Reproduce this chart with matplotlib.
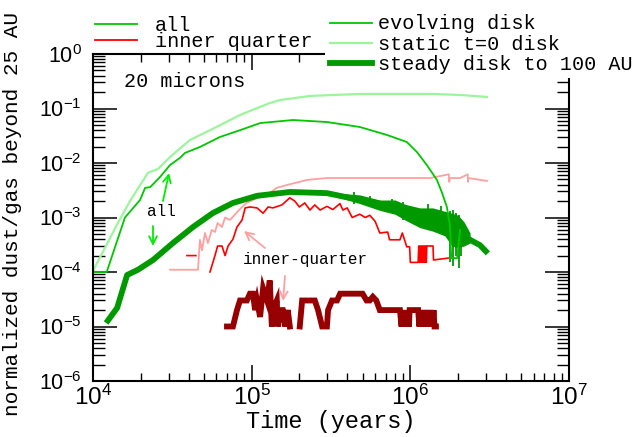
import matplotlib
matplotlib.use('Agg')
import matplotlib.pyplot as plt
import numpy as np
from matplotlib.lines import Line2D
from matplotlib.patches import Rectangle
from matplotlib.ticker import LogLocator, FuncFormatter, NullFormatter

plt.rcParams['font.family'] = 'Liberation Mono'
plt.rcParams['mathtext.fontset'] = 'custom'
plt.rcParams['mathtext.rm'] = 'Liberation Sans'
plt.rcParams['mathtext.it'] = 'Liberation Sans'

nan = np.nan

# evolving disk, all particles
evo_t = [1.0e4, 1.22e4, 1.59e4, 1.98e4, 2.13e4, 2.29e4, 2.64e4, 3.06e4, 3.53e4, 3.80e4,
         4.72e4, 6.31e4, 8.44e4, 1.13e5, 1.82e5, 2.98e5, 4.80e5, 7.12e5, 9.5e5, 1.10e6,
         1.27e6, 1.47e6, 1.58e6, 1.70e6, 1.78e6, 1.81e6, 1.97e6, 2.06e6]
evo_y = [1.0e-4, 1.0e-4, 1.0e-3, 2.1e-3, 3.5e-3, 3.6e-3, 5.5e-3, 9.2e-3, 1.24e-2, 1.53e-2,
         1.97e-2, 3.0e-2, 4.0e-2, 5.4e-2, 6.15e-2, 5.65e-2, 4.58e-2, 3.27e-2, 2.43e-2, 1.59e-2,
         9.2e-3, 4.9e-3, 2.9e-3, 1.56e-3, 6.7e-4, 1.8e-4, 1.8e-4, 5.9e-4]

# static t=0 disk, all particles
sta_t = [1.0e4, 1.42e4, 1.71e4, 2.22e4, 2.57e4, 3.06e4, 4.08e4, 5.46e4, 8.44e4, 1.30e5,
         1.51e5, 2.33e5, 4.8e5, 9.9e5, 1.39e6, 2.06e6, 3.04e6]
sta_y = [1.05e-4, 7.5e-4, 2.0e-3, 6.6e-3, 7.8e-3, 1.29e-2, 2.64e-2, 4.0e-2, 7.6e-2, 0.126,
         0.143, 0.170, 0.185, 0.185, 0.185, 0.177, 0.163]

# steady disk to 100 AU, all particles
std_t = [1.21e4, 1.42e4, 1.64e4, 1.92e4, 2.39e4, 3.19e4, 4.27e4, 5.70e4, 7.62e4, 1.08e5,
         1.74e5, 2.98e5, 4.8e5, 7.77e5, 1.15e6, 1.54e6, 1.97e6, 2.27e6, 2.75e6, 3.08e6]
std_y = [1.16e-5, 2.2e-5, 8.8e-5, 1.1e-4, 1.66e-4, 3.4e-4, 6.7e-4, 1.21e-3, 1.85e-3, 2.5e-3,
         2.94e-3, 2.8e-3, 2.1e-3, 1.63e-3, 9e-4, 7.3e-4, 5.2e-4, 4.2e-4, 3.1e-4, 2.2e-4]
# scatter of the steady curve: band edges and single spikes
band_t = [3.0e5, 4.8e5, 6.43e5, 8.0e5, 9.25e5, 1.15e6, 1.39e6, 1.65e6, 1.83e6, 2.0e6,
          2.18e6, 2.38e6]
band_hi = [2.9e-3, 2.6e-3, 2.09e-3, 2.1e-3, 1.75e-3, 1.5e-3, 1.5e-3, 1.3e-3, 1.2e-3, 1.1e-3,
           8.3e-4, 5.2e-4]
band_lo = [2.7e-3, 1.8e-3, 1.35e-3, 1.15e-3, 9e-4, 6.5e-4, 5.6e-4, 4.6e-4, 3.0e-4, 2.8e-4,
           3.0e-4, 3.4e-4]
spike_t = [4.4e5, 5.6e5, 7.7e5, 9.0e5, 1.3e6, 1.55e6, 1.78e6, 1.86e6, 1.93e6, 2.02e6, 2.10e6]
spike_hi = [2.9e-3, 2.5e-3, 2.2e-3, 1.9e-3, 1.8e-3, 1.6e-3, 1.3e-3, 1.4e-3, 1.2e-3, 1.1e-3, 9e-4]
spike_lo = [1.8e-3, 1.6e-3, 1.2e-3, 9e-4, 6e-4, 5e-4, 1.5e-4, 1.3e-4, 2.0e-4, 1.2e-4, 2.0e-4]

# evolving disk, inner quarter
red_t = [3.91e4, 4.45e4, nan, 5.46e4, 5.87e4, 6.1e4, 6.5e4, 6.8e4, 7.1e4, 7.62e4,
         8.08e4, 8.7e4, 9.1e4, 9.75e4, 1.08e5, 1.18e5, 1.27e5, 1.36e5, 1.55e5, 1.74e5,
         1.87e5, 2.0e5, 2.16e5, 2.33e5, 2.5e5, 2.7e5, 2.98e5, 3.25e5, 3.6e5, 3.76e5,
         4.0e5, 4.3e5, 4.8e5, 5.2e5, 5.55e5, 6.0e5, 6.42e5, 7.2e5, 7.4e5, 8.6e5,
         8.9e5, 9.5e5, 9.9e5, 1.0e6, 1.12e6, 1.13e6, 1.14e6, 1.15e6, 1.16e6, 1.17e6,
         1.18e6, 1.19e6, 1.20e6, 1.21e6, 1.22e6, 1.23e6, 1.24e6, 1.25e6, 1.26e6, 1.27e6,
         1.39e6, 1.40e6, 1.73e6]
red_y = [2e-4, 2e-4, nan, 1e-4, 2e-4, 3e-4, 3e-4, 2e-4, 3e-4, 4e-4,
         6.7e-4, 9e-4, 1.5e-3, 1.56e-3, 1.5e-3, 1.2e-3, 1.56e-3, 1.5e-3, 1.7e-3, 2.3e-3,
         2.0e-3, 1.56e-3, 1.85e-3, 1.37e-3, 1.7e-3, 1.37e-3, 1.6e-3, 1.4e-3, 1.8e-3, 1.37e-3,
         1.5e-3, 1.0e-3, 1.15e-3, 1.0e-3, 1.1e-3, 8.5e-4, 5.2e-4, 5.4e-4, 3.9e-4, 3.9e-4,
         5.2e-4, 2.9e-4, 2.9e-4, 1.5e-4, 1.5e-4, 3e-4, 1.5e-4, 3e-4, 1.5e-4, 3e-4,
         1.5e-4, 3e-4, 1.5e-4, 3e-4, 1.5e-4, 3e-4, 1.5e-4, 3e-4, 1.5e-4, 3e-4,
         3e-4, 1.66e-4, 1.8e-4]

# static disk, inner quarter
sal_t = [3.06e4, 4.59e4, 4.72e4, 4.86e4, 5.08e4, 5.3e4, 5.6e4, 5.87e4, 6.1e4, 6.5e4,
         6.8e4, 7.3e4, 8.1e4, 8.7e4, 9.3e4, 1.08e5, 1.25e5, 1.44e5, 1.67e5, 2.24e5,
         2.98e5, 4.8e5, 7.8e5, 1.33e6, 1.75e6, 1.76e6, 1.77e6, 2.06e6, 2.30e6, 2.31e6,
         2.32e6, 3.04e6]
sal_y = [1.1e-4, 1.1e-4, 3.9e-4, 2.5e-4, 5.2e-4, 3.4e-4, 5.9e-4, 5.4e-4, 7.9e-4, 6.7e-4,
         1.0e-3, 9e-4, 1.26e-3, 1.56e-3, 1.85e-3, 2.28e-3, 2.6e-3, 3.5e-3, 3.95e-3, 4.9e-3,
         5.3e-3, 5.3e-3, 5.3e-3, 5.3e-3, 6.2e-3, 4.5e-3, 5.3e-3, 5.3e-3, 6.2e-3, 4.5e-3,
         5.3e-3, 4.7e-3]

# steady disk, inner quarter (counts of 1e-5)
dr_t = [6.99e4, 7.62e4, 8.08e4, 8.44e4, 9.33e4, 9.75e4, 1.02e5, 1.05e5, 1.08e5, 1.13e5,
        1.18e5, 1.25e5, 1.30e5, 1.34e5, 1.36e5, 1.44e5, 1.46e5, 1.51e5, 1.57e5, 1.62e5,
        1.69e5, 1.74e5, 1.8e5, 2.01e5, 2.08e5, 2.24e5, 2.33e5, 2.5e5, 2.62e5, 2.78e5,
        2.98e5, 3.03e5, 3.21e5, 3.45e5, 3.61e5, 5.0e5, 5.3e5, 5.55e5, 5.8e5, 6.1e5,
        6.42e5, 8.6e5, 8.8e5, 8.9e5, 9.0e5, 9.1e5, 9.2e5, 9.3e5, 9.4e5, 9.5e5,
        9.6e5, 9.7e5, 9.8e5, 9.9e5, 1.04e6, 1.12e6, 1.14e6, 1.16e6, 1.18e6, 1.20e6,
        1.22e6, 1.24e6, 1.26e6, 1.28e6, 1.30e6, 1.32e6, 1.34e6, 1.36e6, 1.38e6, 1.40e6,
        1.42e6, 1.45e6]
dr_y = [1e-5, 1e-5, 2e-5, 3e-5, 3e-5, 4e-5, 4e-5, 2e-5, 3e-5, 1.5e-5,
        5e-5, 3e-5, 7e-5, 1e-5, 2e-5, 3e-5, 1e-5, 2e-5, 2e-5, 1e-5,
        2e-5, 1e-5, nan, 1e-5, 3e-5, 3e-5, 3e-5, 3e-5, 2e-5, 1e-5,
        1e-5, 2e-5, 3e-5, 3e-5, 4e-5, 4e-5, 3e-5, 3e-5, 3.5e-5, 3e-5,
        2e-5, 2e-5, 1e-5, 2e-5, 1e-5, 2e-5, 1e-5, 2e-5, 1e-5, 2e-5,
        1e-5, 2e-5, 1e-5, 2e-5, 2e-5, 2e-5, 1e-5, 2e-5, 1e-5, 2e-5,
        1e-5, 2e-5, 1e-5, 2e-5, 1e-5, 2e-5, 1e-5, 2e-5, 1e-5, 2e-5,
        1e-5, 1e-5]

c_evo = '#00c800'
c_sta = '#9cf59c'
c_std = '#009a00'
c_red = '#ff0000'
c_sal = '#ffa0a0'
c_drk = '#960000'

W, H = 636, 437


def fpx(x, y):
    return x / W, 1 - y / H


fig = plt.figure(figsize=(6.36, 4.37), dpi=100)
ax = fig.add_axes([93 / W, 1 - 381 / H, 476 / W, 327 / H])

ax.plot(sta_t, sta_y, color=c_sta, lw=1.6)
ax.plot(sal_t, sal_y, color=c_sal, lw=1.3)
ax.plot(red_t, red_y, color=c_red, lw=1.2)
ax.fill_between(band_t, band_lo, band_hi, color=c_std, lw=0)
ax.vlines(spike_t, spike_lo, spike_hi, color=c_std, lw=1.3)
ax.plot(std_t, std_y, color=c_std, lw=4.2, solid_capstyle='butt')
ax.plot(evo_t, evo_y, color=c_evo, lw=1.3)
ax.plot(dr_t, dr_y, color=c_drk, lw=4.2, solid_joinstyle='miter')

ax.set_xscale('log')
ax.set_yscale('log')
ax.set_xlim(1e4, 1e7)
ax.set_ylim(1e-6, 1)
ax.xaxis.set_major_locator(LogLocator(base=10, numticks=10))
ax.yaxis.set_major_locator(LogLocator(base=10, numticks=10))
ax.xaxis.set_minor_locator(LogLocator(base=10, subs=np.arange(2, 10), numticks=20))
ax.yaxis.set_minor_locator(LogLocator(base=10, subs=np.arange(2, 10), numticks=20))
fmt = FuncFormatter(lambda v, p: r'$\mathrm{10^{%d}}$' % round(np.log10(v)))
ax.xaxis.set_major_formatter(fmt)
ax.yaxis.set_major_formatter(fmt)
ax.xaxis.set_minor_formatter(NullFormatter())
ax.yaxis.set_minor_formatter(NullFormatter())

ax.tick_params(which='both', direction='in', top=True, right=True, color='black')
ax.tick_params(axis='x', which='major', length=11.5, width=1.1, pad=3, labelsize=17.5)
ax.tick_params(axis='x', which='minor', length=6, width=1.0)
ax.tick_params(axis='y', which='major', length=17, width=1.1, pad=8, labelsize=15.5)
ax.tick_params(axis='y', which='minor', length=8.5, width=1.0)
for s in ax.spines.values():
    s.set_linewidth(1.5)

ax.set_xlabel('Time (years)', fontsize=17, labelpad=0)
fig.text(*fpx(13, 214), 'normalized dust/gas beyond 25 AU', fontsize=15.2,
         rotation=90, ha='center', va='center')

# legend area hides the top-right corner of the frame
fig.add_artist(Rectangle(fpx(325, 78), (W - 325) / W, 78 / H, transform=fig.transFigure,
                         facecolor='white', edgecolor='none', zorder=1))

leg1 = [('all', c_evo, 1.3, 24, 31), ('inner quarter', c_red, 1.3, 40, 47)]
for lab, col, lw, yl, yb in leg1:
    fig.add_artist(Line2D([95 / W, 137 / W], [1 - yl / H] * 2, transform=fig.transFigure,
                          color=col, lw=lw, zorder=3))
    fig.text(155 / W, 1 - yb / H, lab, fontsize=14.5, va='baseline', ha='left')

leg2 = [('evolving disk', c_evo, 1.3, 23, 29), ('static t=0 disk', c_sta, 1.6, 43, 50),
        ('steady disk to 100 AU', c_std, 4.2, 63, 70)]
for lab, col, lw, yl, yb in leg2:
    fig.add_artist(Line2D([330 / W, 372 / W], [1 - yl / H] * 2, transform=fig.transFigure,
                          color=col, lw=lw, zorder=3))
    fig.text(378 / W, 1 - yb / H, lab, fontsize=14.5, va='baseline', ha='left')

fig.text(*fpx(124, 87), '20 microns', fontsize=14.5, va='baseline', ha='left')
fig.text(*fpx(161, 216), 'all', fontsize=11.5, va='baseline', ha='center')
fig.text(*fpx(305, 264), 'inner-quarter', fontsize=11.5, va='baseline', ha='center')

arrows = [((163, 201), (169, 173), '#00ee00'), ((153, 226), (153, 246), '#00ee00'),
          ((265, 248), (244, 231), c_sal), ((285, 276), (283, 301), c_sal)]
for tail, head, col in arrows:
    ax.annotate('', xy=fpx(*head), xycoords='figure fraction', xytext=fpx(*tail),
                textcoords='figure fraction',
                arrowprops=dict(arrowstyle='->', color=col, lw=1.3, mutation_scale=14,
                                shrinkA=0, shrinkB=0))

fig.savefig('out.png', dpi=100)
